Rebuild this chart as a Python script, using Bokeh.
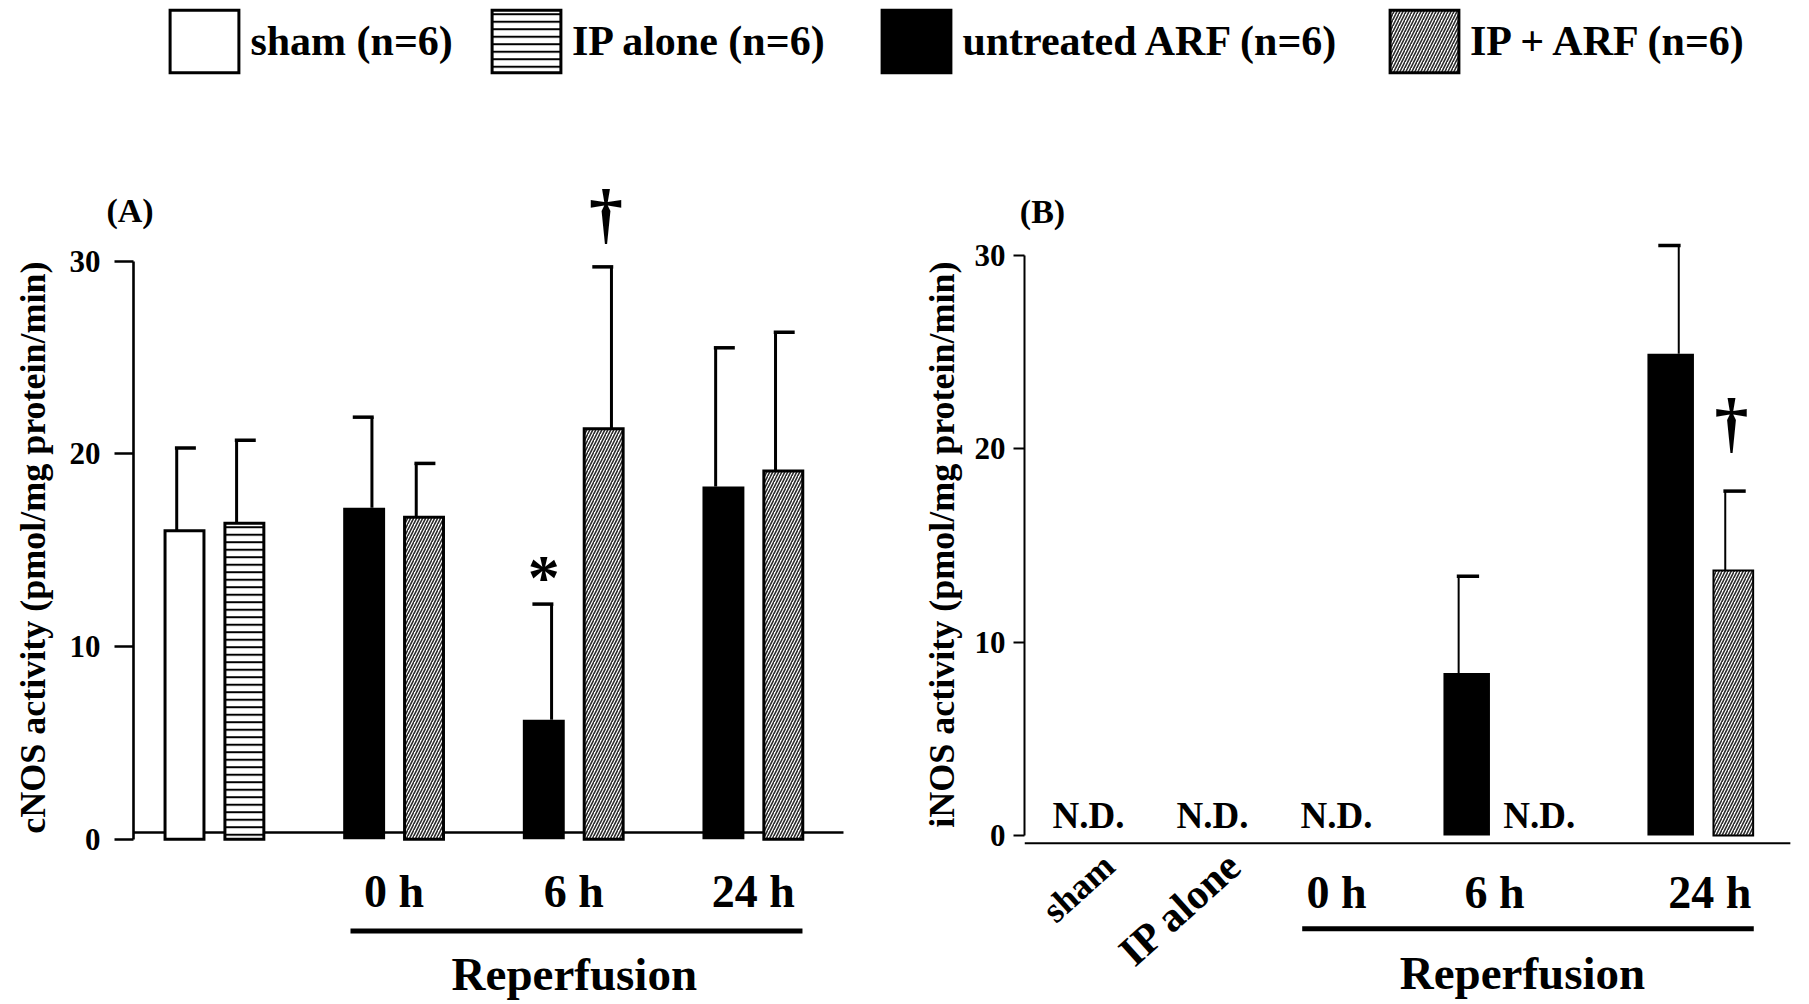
import math
from bokeh.plotting import figure
from bokeh.models import Range1d, FixedTicker, Label, Legend, LegendItem, ColumnDataSource, Title
from bokeh.layouts import column, row
from bokeh.embed import file_html
from bokeh.resources import INLINE

FONT = "Liberation Serif"

# ---------------- data ----------------
series = ["sham", "IP alone", "untreated ARF", "IP + ARF"]
legend_labels = ["sham (n=6)", "IP alone (n=6)", "untreated ARF (n=6)", "IP + ARF (n=6)"]
time_points = ["0 h", "6 h", "24 h"]
group_caption = "Reperfusion"

# Panel A: cNOS activity (pmol/mg protein/min), mean and upper error
cnos_series = ["sham", "IP alone", "untreated ARF", "IP + ARF",
               "untreated ARF", "IP + ARF", "untreated ARF", "IP + ARF"]
cnos_mean = [16.0, 16.4, 17.2, 16.7, 6.2, 21.3, 18.3, 19.1]
cnos_err = [4.3, 4.3, 4.7, 2.8, 6.0, 8.4, 7.2, 7.2]
cnos_mark = ["", "", "", "", "*", "\u2020", "", ""]

# Panel B: iNOS activity; None = N.D. (not detected)
inos_series = ["sham", "IP alone", "ARF 0 h", "untreated ARF", "IP + ARF",
               "untreated ARF", "IP + ARF"]
inos_mean = [None, None, None, 8.4, None, 24.9, 13.7]
inos_err = [None, None, None, 5.0, None, 5.6, 4.1]
inos_mark = ["", "", "", "", "", "", "\u2020"]
inos_rot_labels = ["sham", "IP alone"]
nd_text = "N.D."

# ---------------- layout / style ----------------
A_SLOTS = [0, 1, 3, 4, 6, 7, 9, 10]
A_TIME_X = [3.5, 6.5, 9.5]
A_CAP_SIDE = [1, 1, -1, 1, -1, -1, 1, 1]
A_MARK_DY = [0, 0, 0, 0, 1.38, 2.77, 0, 0]
B_SLOTS = [0, 2, 4, 6.1, 7.27, 9.39, 10.4]
B_TIME_X = [4.0, 6.55, 10.02]
B_CAP_SIDE = [1, 1, 1, 1, 1, -1, 1]
B_MARK_DY = [0, 0, 0, 0, 0, 0, 3.55]

STYLE = {
    "sham": dict(fill_color="white", line_color="black"),
    "IP alone": dict(fill_color="white", line_color="black", hatch_pattern="horizontal_line",
                     hatch_color="black", hatch_scale=7.5, hatch_weight=2.0),
    "untreated ARF": dict(fill_color="black", line_color="black"),
    "IP + ARF": dict(fill_color="white", line_color="black", hatch_pattern="right_diagonal_line",
                     hatch_color="#2a2a2a", hatch_scale=6.0, hatch_weight=1.6),
}


def base_fig(width, height, xr, yr, bl, br, bt, bb, tick_out, standoff, axw,
             label, title_offset, title_standoff):
    p = figure(width=width, height=height, x_range=Range1d(start=xr[0], end=xr[1]),
               y_range=Range1d(start=yr[0], end=yr[1]), toolbar_location=None,
               output_backend="svg", x_axis_location=None,
               min_border_left=bl, min_border_right=br, min_border_top=bt, min_border_bottom=bb)
    p.outline_line_color = None
    p.grid.visible = False
    ax = p.yaxis[0]
    ax.ticker = FixedTicker(ticks=[0, 10, 20, 30])
    ax.bounds = (0, 30)
    ax.minor_tick_line_color = None
    ax.major_tick_in = 0
    ax.major_tick_out = tick_out
    ax.major_tick_line_width = axw
    ax.axis_line_width = axw
    ax.major_label_standoff = standoff
    ax.major_label_text_font = FONT
    ax.major_label_text_font_style = "bold"
    ax.major_label_text_font_size = "31px"
    ax.major_label_text_color = "black"
    # y-axis title, placed beside the axis
    p.add_layout(Title(text=label, align="right", vertical_align="top",
                       offset=title_offset, standoff=title_standoff,
                       text_font=FONT, text_font_style="bold", text_font_size="36px",
                       text_color="black"), "left")
    return p


def draw_bars(p, slots, names, means, errs, sides, w_plain, w_black, line_w,
              stem_w, cap_w, cap_len, stem_off):
    for s in series:
        idx = [i for i, n in enumerate(names) if n == s and means[i] is not None]
        if not idx:
            continue
        src = ColumnDataSource(dict(x=[slots[i] for i in idx], top=[means[i] for i in idx]))
        if s == "untreated ARF":
            p.vbar(x="x", top="top", bottom=0, width=w_black, source=src,
                   fill_color="black", line_color=None)
        else:
            p.vbar(x="x", top="top", bottom=0, width=w_plain, source=src,
                   line_width=line_w, line_join="miter", **STYLE[s])
    idx = [i for i in range(len(means)) if means[i] is not None]
    xs = [slots[i] - sides[i] * stem_off for i in idx]
    y0 = [means[i] for i in idx]
    y1 = [means[i] + errs[i] for i in idx]
    p.segment(x0=xs, y0=y0, x1=xs, y1=y1, line_width=stem_w, line_color="black")
    cx0 = [x - sides[i] * 0.03 for x, i in zip(xs, idx)]
    cx1 = [x + sides[i] * cap_len for x, i in zip(xs, idx)]
    p.segment(x0=cx0, y0=y1, x1=cx1, y1=y1, line_width=cap_w, line_color="black")


def add_label(p, x, y, text, size, angle=0.0, place="center"):
    p.add_layout(Label(x=x, y=y, text=text, text_font=FONT, text_font_style="bold",
                       text_font_size=size, text_align="center", text_baseline="middle",
                       text_color="black", angle=angle), place)


# ---------------- legend strip ----------------
leg = figure(width=1805, height=80, x_range=Range1d(start=0, end=1), y_range=Range1d(start=0, end=1),
             x_axis_type=None, y_axis_type=None, toolbar_location=None, output_backend="svg",
             min_border_left=0, min_border_right=0, min_border_top=0, min_border_bottom=0)
leg.outline_line_color = None
leg.grid.visible = False
leg_x = [161.4, 483.0, 873.4, 1381.0]
for s, lbl, vx in zip(series, legend_labels, leg_x):
    # zero-size placeholder renderer for the legend key (hidden under the black key)
    r = leg.vbar(x=[0.508], top=[0.49], bottom=[0.49], width=0.0, line_width=3,
                 line_join="miter", **STYLE[s])
    lg = Legend(items=[LegendItem(label=lbl, renderers=[r])], location=(vx, 0),
                orientation="horizontal", glyph_width=86, glyph_height=78, label_standoff=3,
                padding=0, margin=0, spacing=0, border_line_color=None,
                background_fill_alpha=0, label_text_font=FONT, label_text_font_style="bold",
                label_text_font_size="42px", label_text_color="black")
    leg.add_layout(lg)

# ---------------- panel A ----------------
pA = base_fig(900, 923, (-0.8517, 11.790), (-8.526, 34.70), 133, 10, 90, 0,
              19, 14, 2.6, "cNOS activity  (pmol/mg protein/min)", 82, 24)
pA.segment(x0=[-0.8517], y0=[0.35], x1=[11.005], y1=[0.35], line_width=2.5, line_color="black")
draw_bars(pA, A_SLOTS, cnos_series, cnos_mean, cnos_err, A_CAP_SIDE,
          w_plain=0.65, w_black=0.70, line_w=3, stem_w=3, cap_w=3.5, cap_len=0.32, stem_off=0.13)
for i, m in enumerate(cnos_mark):
    if m:
        add_label(pA, A_SLOTS[i] + (0.04 if m != "*" else 0.0),
                  cnos_mean[i] + cnos_err[i] + A_MARK_DY[i], m, "64px" if m == "*" else "68px")
add_label(pA, -0.91, 32.62, "(A)", "34px", place="above")
for tx, t in zip(A_TIME_X, time_points):
    add_label(pA, tx, -2.70, t, "46px")
pA.segment(x0=[2.772], y0=[-4.77], x1=[10.32], y1=[-4.77], line_width=5, line_color="black")
add_label(pA, 6.51, -6.97, group_caption, "47px")

# ---------------- panel B ----------------
pB = base_fig(905, 923, (-1.032, 11.532), (-8.682, 34.37), 124, 2, 90, 0,
              11, 8, 2.0, "iNOS activity  (pmol/mg protein/min)", 82, 16)
pB.segment(x0=[-1.032], y0=[-0.40], x1=[11.32], y1=[-0.40], line_width=2.2, line_color="black")
draw_bars(pB, B_SLOTS, inos_series, inos_mean, inos_err, B_CAP_SIDE,
          w_plain=0.64, w_black=0.75, line_w=2, stem_w=2, cap_w=3.5, cap_len=0.33, stem_off=0.13)
for i, v in enumerate(inos_mean):
    if v is None:
        add_label(pB, B_SLOTS[i], 1.01, nd_text, "37px")
for i, m in enumerate(inos_mark):
    if m:
        add_label(pB, B_SLOTS[i] - 0.03, inos_mean[i] + inos_err[i] + B_MARK_DY[i], m, "68px")
add_label(pB, -0.742, 32.25, "(B)", "34px", place="above")
ang = math.radians(42)
add_label(pB, -0.161, -2.71, inos_rot_labels[0], "36px", angle=ang)
add_label(pB, 1.484, -3.75, inos_rot_labels[1], "42px", angle=ang)
for tx, t in zip(B_TIME_X, time_points):
    add_label(pB, tx, -2.96, t, "46px")
pB.segment(x0=[3.447], y0=[-4.82], x1=[10.73], y1=[-4.82], line_width=5, line_color="black")
add_label(pB, 7.0, -7.13, group_caption, "47px")

layout = column(leg, row(pA, pB, spacing=0), spacing=0)
open("out.html", "w").write(file_html(layout, INLINE))
